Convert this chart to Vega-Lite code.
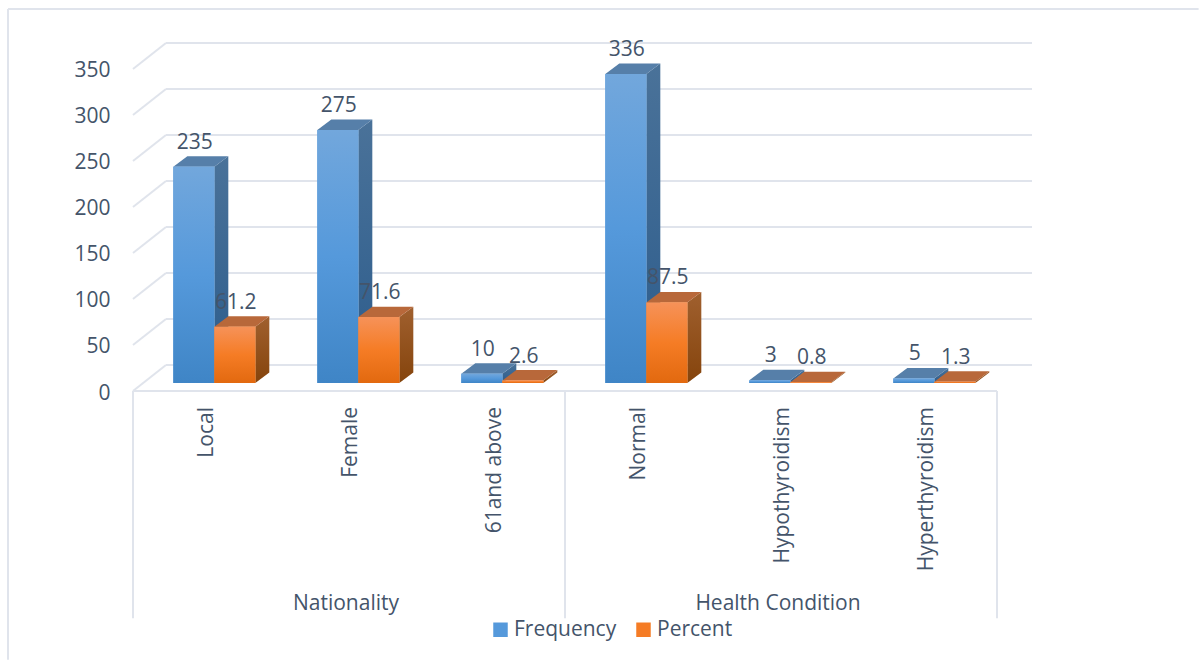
{
"$schema":"https://vega.github.io/schema/vega-lite/v6.json",
"autosize":"none","width":900,"height":348,
"padding":{"left":133,"top":43,"right":166,"bottom":269},
"background":"white",
"config":{"view":{"stroke":null},"font":"Open Sans"},
"datasets":{
"ticks":[{"tick":0},{"tick":50},{"tick":100},{"tick":150},{"tick":200},{"tick":250},{"tick":300},{"tick":350}],
"seps":[{"s":0},{"s":3},{"s":6}],
"groups":[{"g":"Nationality","c":1.5},{"g":"Health Condition","c":4.5}]
},
"data":{"values":[
{"group":"Nationality","category":"Local","series":"Frequency","value":235},
{"group":"Nationality","category":"Local","series":"Percent","value":61.2},
{"group":"Nationality","category":"Female","series":"Frequency","value":275},
{"group":"Nationality","category":"Female","series":"Percent","value":71.6},
{"group":"Nationality","category":"61and above","series":"Frequency","value":10},
{"group":"Nationality","category":"61and above","series":"Percent","value":2.6},
{"group":"Health Condition","category":"Normal","series":"Frequency","value":336},
{"group":"Health Condition","category":"Normal","series":"Percent","value":87.5},
{"group":"Health Condition","category":"Hypothyroidism","series":"Frequency","value":3},
{"group":"Health Condition","category":"Hypothyroidism","series":"Percent","value":0.8},
{"group":"Health Condition","category":"Hyperthyroidism","series":"Frequency","value":5},
{"group":"Health Condition","category":"Hyperthyroidism","series":"Percent","value":1.3}
]},
"transform":[
{"calculate":"indexof(['Local','Female','61and above','Normal','Hypothyroidism','Hyperthyroidism'],datum.category)","as":"i"},
{"calculate":"datum.i+0.28+(datum.series==='Percent'?0.2847:0)","as":"x0"},
{"calculate":"datum.x0+0.2847","as":"x1"},
{"calculate":"datum.value+8.7","as":"top"},
{"calculate":"[0,1]","as":"t"},
{"flatten":["t"]},
{"calculate":"datum.x0+datum.t*0.0972","as":"tx0"},
{"calculate":"datum.x1+datum.t*0.0972","as":"tx1"},
{"calculate":"datum.top+datum.t*11.4","as":"ty"},
{"calculate":"8.7+datum.t*11.4","as":"by"},
{"calculate":"datum.category+datum.series","as":"key"},
{"calculate":"datum.i+0.5","as":"cx"},
{"calculate":"(datum.x0+datum.x1)/2","as":"vx"}
],
"layer":[
{"data":{"name":"ticks"},"mark":{"type":"rule","color":"#e0e4ec","strokeWidth":2},
 "transform":[{"calculate":"datum.tick+28.26","as":"back"}],
 "encoding":{"x":{"datum":0,"type":"quantitative","scale":{"domain":[0,6.25],"nice":false,"zero":false},"axis":null},"x2":{"datum":0.229},
 "y":{"field":"tick","type":"quantitative","scale":{"domain":[0,378.26],"nice":false,"zero":false},
   "axis":{"title":null,"values":[0,50,100,150,200,250,300,350],"domain":false,"ticks":false,"grid":false,"labelFontSize":21,"labelColor":"#44546a","labelPadding":23,"labelFont":"Open Sans","labelOffset":2}},
 "y2":{"field":"back"}}},
{"data":{"name":"ticks"},"mark":{"type":"rule","color":"#e0e4ec","strokeWidth":2},
 "transform":[{"calculate":"datum.tick+28.26","as":"back"}],
 "encoding":{"x":{"datum":0.229,"type":"quantitative"},"x2":{"datum":6.243},"y":{"field":"back","type":"quantitative"}}},
{"data":{"name":"seps"},"mark":{"type":"rule","color":"#e0e4ec","strokeWidth":2},
 "encoding":{"x":{"field":"s","type":"quantitative"},"y":{"datum":0,"type":"quantitative"},"y2":{"datum":-247}}},
{"data":{"values":[{"a":1}]},"mark":{"type":"rule","color":"#e0e4ec","strokeWidth":2},
 "encoding":{"x":{"datum":0,"type":"quantitative"},"x2":{"datum":6},"y":{"datum":0,"type":"quantitative"}}},
{"data":{"values":[{"a":1}]},"mark":{"type":"rule","color":"#e0e4ec","strokeWidth":2},
 "encoding":{"x":{"datum":-0.868,"type":"quantitative"},"y":{"datum":415.2,"type":"quantitative"},"y2":{"datum":-292}}},
{"data":{"values":[{"a":1}]},"mark":{"type":"rule","color":"#e0e4ec","strokeWidth":2},
 "encoding":{"x":{"datum":-0.868,"type":"quantitative"},"x2":{"datum":7.4},"y":{"datum":415.2,"type":"quantitative"}}},
{"mark":{"type":"area","orient":"vertical","line":false},
 "encoding":{"x":{"field":"tx1","type":"quantitative"},"y":{"field":"ty","type":"quantitative"},"y2":{"field":"by"},"detail":{"field":"key"},
 "fill":{"condition":{"test":"datum.series==='Percent'","value":{"gradient":"linear","x1":0,"y1":0,"x2":0,"y2":1,"stops":[{"offset":0,"color":"#a0602f"},{"offset":1,"color":"#85440c"}]}},
  "value":{"gradient":"linear","x1":0,"y1":0,"x2":0,"y2":1,"stops":[{"offset":0,"color":"#4a7299"},{"offset":1,"color":"#2c5c8c"}]}}}},
{"mark":{"type":"area","orient":"horizontal","line":false},
 "encoding":{"y":{"field":"ty","type":"quantitative"},"x":{"field":"tx0","type":"quantitative"},"x2":{"field":"tx1"},"detail":{"field":"key"},
 "fill":{"condition":{"test":"datum.series==='Percent'","value":"#b8683a"},"value":"#567fa9"}}},
{"transform":[{"filter":"datum.t===0"}],"mark":{"type":"rect"},
 "encoding":{"x":{"field":"x0","type":"quantitative"},"x2":{"field":"x1"},"y":{"field":"top","type":"quantitative"},"y2":{"datum":8.7},
 "color":{"field":"series","type":"nominal","scale":{"domain":["Frequency","Percent"],"range":["#5599db","#f57c25"]},
  "legend":{"title":null,"orient":"none","legendX":357,"legendY":576,"direction":"horizontal","labelFontSize":21,"labelColor":"#44546a","labelFont":"Open Sans","symbolType":"square","symbolSize":210,"symbolStrokeWidth":0,"labelOffset":3,"columnPadding":16,
   "encode":{"symbols":{"update":{"fill":{"signal":"datum.value==='Percent'?{gradient:'linear',x1:0,y1:0,x2:0,y2:1,stops:[{offset:0,color:'#f69259'},{offset:1,color:'#ea6f14'}]}:{gradient:'linear',x1:0,y1:0,x2:0,y2:1,stops:[{offset:0,color:'#72a7dc'},{offset:1,color:'#4a8ccc'}]}"}}}}}}}},
{"transform":[{"filter":"datum.t===0"}],"mark":{"type":"rect"},
 "encoding":{"x":{"field":"x0","type":"quantitative"},"x2":{"field":"x1"},"y":{"field":"top","type":"quantitative"},"y2":{"datum":8.7},
 "fill":{"condition":{"test":"datum.series==='Percent'","value":{"gradient":"linear","x1":0,"y1":0,"x2":0,"y2":1,"stops":[{"offset":0,"color":"#f69259"},{"offset":0.5,"color":"#f57c25"},{"offset":1,"color":"#e2690f"}]}},
  "value":{"gradient":"linear","x1":0,"y1":0,"x2":0,"y2":1,"stops":[{"offset":0,"color":"#72a7dc"},{"offset":0.5,"color":"#5599db"},{"offset":1,"color":"#3f85c6"}]}}}},
{"transform":[{"filter":"datum.t===0"}],"mark":{"type":"text","fontSize":21,"color":"#44546a","yOffset":-24,"xOffset":1,"baseline":"middle","align":"center"},
 "encoding":{"x":{"field":"vx","type":"quantitative"},"y":{"field":"top","type":"quantitative"},"text":{"field":"value","type":"nominal"}}},
{"transform":[{"filter":"datum.t===0 && datum.series==='Frequency'"}],"mark":{"type":"text","fontSize":21,"color":"#44546a","angle":270,"align":"right","baseline":"middle","yOffset":16,"xOffset":2},
 "encoding":{"x":{"field":"cx","type":"quantitative"},"y":{"datum":0,"type":"quantitative"},"text":{"field":"category","type":"nominal"}}},
{"data":{"name":"groups"},"mark":{"type":"text","fontSize":21,"color":"#44546a","align":"center","baseline":"middle","yOffset":213,"xOffset":-3},
 "encoding":{"x":{"field":"c","type":"quantitative"},"y":{"datum":0,"type":"quantitative"},"text":{"field":"g","type":"nominal"}}}
]
}
